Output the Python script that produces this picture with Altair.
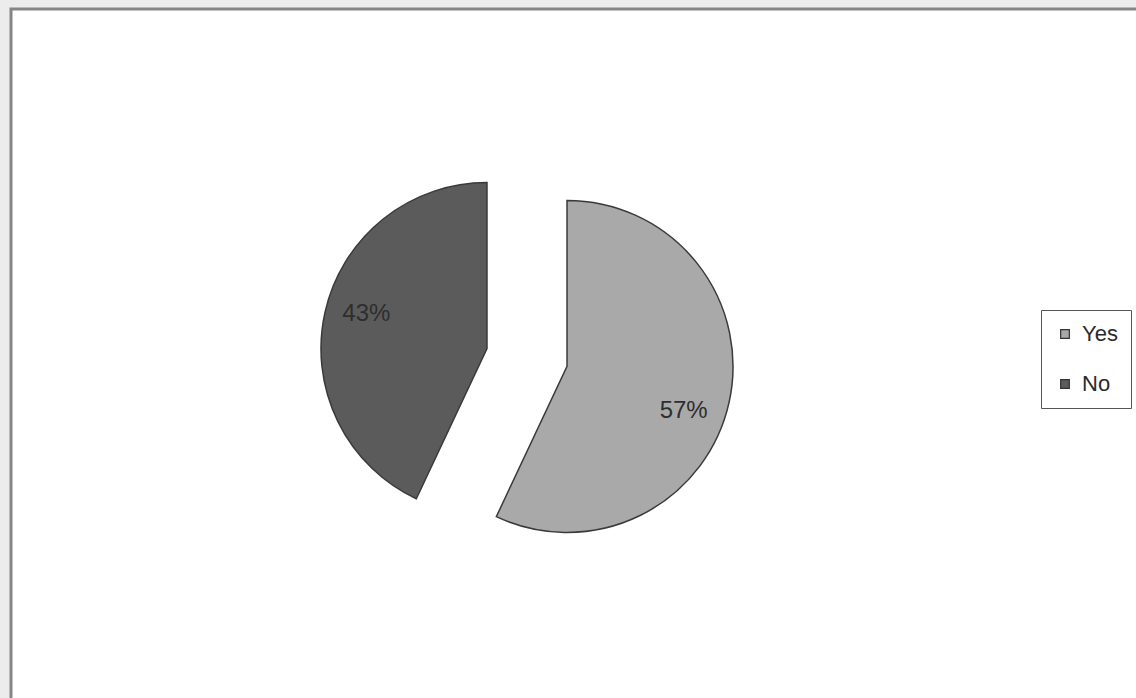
import math
import altair as alt
import pandas as pd

# ---- data ----
categories = ["Yes", "No"]
percent_values = [57, 43]
label_texts = ["57%", "43%"]
slice_colors = ["#a9a9a9", "#5b5b5b"]

df = pd.DataFrame({
    "answer": categories,
    "value": percent_values,
    "label": label_texts,
    "order": list(range(len(categories))),
})

EXPLODE = 0.247   # radial shift of each slice, as fraction of radius
R = 166           # pie radius in px
CX, CY = 527, 357.5

TWO_PI = 2 * math.pi

base = alt.Chart(df).transform_joinaggregate(
    total="sum(value)"
).transform_window(
    cum="sum(value)", sort=[alt.SortField("order")], frame=[None, 0]
).transform_calculate(
    t1="datum.cum / datum.total",
    t0="(datum.cum - datum.value) / datum.total",
).transform_calculate(
    mid="(datum.t0 + datum.t1) / 2",
).transform_calculate(
    cx=f"{EXPLODE} * sin(2 * PI * datum.mid)",
    cy=f"-{EXPLODE} * cos(2 * PI * datum.mid)",
)

xs = alt.X("cx:Q", scale=alt.Scale(domain=[-1, 1], range=[CX - R, CX + R]), axis=None)
ys = alt.Y("cy:Q", scale=alt.Scale(domain=[-1, 1], range=[CY - R, CY + R]), axis=None)
theta_scale = alt.Scale(domain=[0, 1], range=[0, TWO_PI])

color = alt.Color(
    "answer:N",
    scale=alt.Scale(domain=categories, range=slice_colors),
    legend=alt.Legend(
        title=None,
        orient="none",
        legendX=1041,
        legendY=310,
        padding=13,
        symbolType="square",
        symbolSize=75,
        symbolStrokeColor="#333333",
        symbolStrokeWidth=1.2,
        labelFont="Liberation Sans",
        labelFontSize=22,
        labelColor="#2a2a2a",
        labelOffset=6,
        rowPadding=28,
        strokeColor="#555555",
        fillColor="#ffffff",
    ),
)

arcs = base.mark_arc(radius=R, stroke="#3a3a3a", strokeWidth=1.5).encode(
    x=xs,
    y=ys,
    theta=alt.Theta("t0:Q", scale=theta_scale),
    theta2="t1:Q",
    color=color,
)

labels = base.mark_text(
    radius=125, thetaOffset=0.1, dy=5, dx=-2, font="Liberation Sans", fontSize=24, color="#2e2e2e"
).encode(
    x=xs,
    y=ys,
    theta=alt.Theta("mid:Q", scale=theta_scale),
    text="label:N",
)

frame = alt.Chart(alt.Data(values=[{}])).mark_rect(
    fill="#ffffff", stroke="#868686", strokeWidth=3
).encode(
    x=alt.value(11), x2=alt.value(1150), y=alt.value(9), y2=alt.value(712)
)

chart = alt.layer(frame, arcs, labels).properties(
    width=1136,
    height=698,
    autosize=alt.AutoSizeParams(type="none"),
    padding=0,
    background="#ececec",
).configure_view(stroke=None)

chart.save("out.html", embed_options={"renderer": "svg", "actions": False})
